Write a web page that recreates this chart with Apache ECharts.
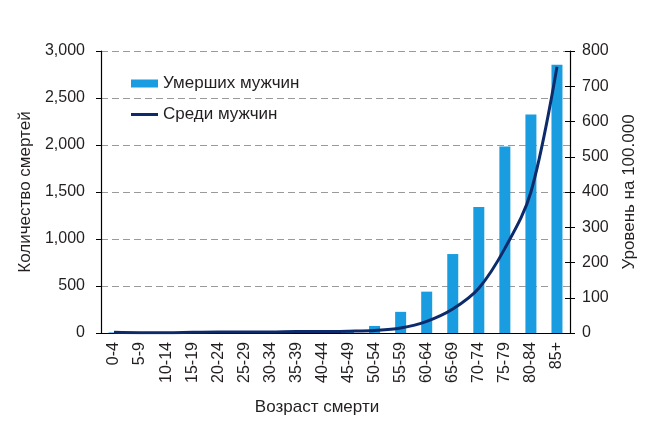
<!DOCTYPE html>
<html><head><meta charset="utf-8">
<script src="https://cdn.jsdelivr.net/npm/echarts@6/dist/echarts.min.js"></script>
<style>html,body{margin:0;padding:0;background:#fff}#c{width:660px;height:429px}</style>
</head><body><div id="c"></div>
<script>
const categories = ['0-4','5-9','10-14','15-19','20-24','25-29','30-34','35-39','40-44','45-49','50-54','55-59','60-64','65-69','70-74','75-79','80-84','85+'];
const deaths = [6,1,1,3,5,5,6,8,12,25,75,225,440,840,1340,1985,2325,2855];
const ratePer100k = [2,1,1,2,3,3,3,4,4,5,7,14,33,68,127,240,400,755];
const leftTicks = [0,500,1000,1500,2000,2500,3000];
const rightTicks = [0,100,200,300,400,500,600,700,800];

const txt = '#231f20';
const font = 'Liberation Sans';
const barColor = '#1a9de0';
const lineColor = '#0d2b6b';
const chart = echarts.init(document.getElementById('c'));
chart.setOption({
  animation: false,
  textStyle: {fontFamily: font, color: txt},
  grid: {left: 101, right: 90, top: 51, bottom: 96},
  legend: [{
    orient: 'vertical', left: 126, top: 70, itemWidth: 27, itemHeight: 8, itemGap: 4, icon: 'rect',
    textStyle: {fontSize: 17, color: txt, fontFamily: font},
    data: ['Умерших мужчин']
  }, {
    orient: 'vertical', left: 126, top: 101, itemWidth: 27, itemHeight: 3, itemGap: 4, icon: 'rect',
    textStyle: {fontSize: 17, color: txt, fontFamily: font},
    itemStyle: {color: lineColor},
    data: ['Среди мужчин']
  }],
  xAxis: [{
    type: 'category', data: categories,
    axisLine: {lineStyle: {color: '#000', width: 1.2}},
    axisTick: {length: 5, lineStyle: {color: '#000'}},
    axisLabel: {rotate: 90, fontSize: 16, color: txt, margin: 9, interval: 0},
    name: 'Возраст смерти', nameLocation: 'middle', nameGap: 66,
    nameTextStyle: {fontSize: 17, color: txt, padding: [0, 37, 0, 0]}
  }, {
    type: 'category', data: categories, position: 'bottom',
    axisLine: {show: false},
    axisTick: {inside: true, length: 7, lineStyle: {color: '#000'}},
    axisLabel: {show: false}
  }],
  yAxis: [{
    type: 'value', min: leftTicks[0], max: leftTicks[leftTicks.length-1], interval: 500,
    axisLine: {show: true, lineStyle: {color: '#000', width: 1.2}},
    axisTick: {show: true, length: 5, lineStyle: {color: '#000'}},
    axisLabel: {fontSize: 16, color: txt, margin: 16,
      formatter: v => v.toLocaleString('en-US')},
    splitLine: {show: true, lineStyle: {color: '#9a9a9a', type: [7, 4], width: 1}},
    name: 'Количество смертей', nameLocation: 'middle', nameRotate: 90, nameGap: 64,
    nameTextStyle: {fontSize: 17, color: txt}
  }, {
    type: 'value', position: 'right', min: rightTicks[0], max: rightTicks[rightTicks.length-1], interval: 100,
    axisLine: {show: true, lineStyle: {color: '#000', width: 1.2}},
    axisTick: {show: true, length: 5, lineStyle: {color: '#000'}},
    axisLabel: {fontSize: 16, color: txt, margin: 12},
    splitLine: {show: false},
    name: 'Уровень на 100.000', nameLocation: 'middle', nameRotate: 90, nameGap: 51,
    nameTextStyle: {fontSize: 17, color: txt, verticalAlign: 'top'}
  }, {
    type: 'value', position: 'right', min: 0, max: 800, interval: 100,
    axisLine: {show: false},
    axisTick: {show: true, inside: true, length: 5, lineStyle: {color: '#000'}},
    axisLabel: {show: false}, splitLine: {show: false}
  }],
  series: [{
    name: 'Умерших мужчин', type: 'bar', data: deaths, barWidth: 11,
    itemStyle: {color: barColor}
  }, {
    name: 'Среди мужчин', type: 'line', yAxisIndex: 1, data: ratePer100k,
    smooth: 0.35, symbol: 'none', lineStyle: {color: lineColor, width: 3},
    itemStyle: {color: lineColor}
  }]
});
</script></body></html>
